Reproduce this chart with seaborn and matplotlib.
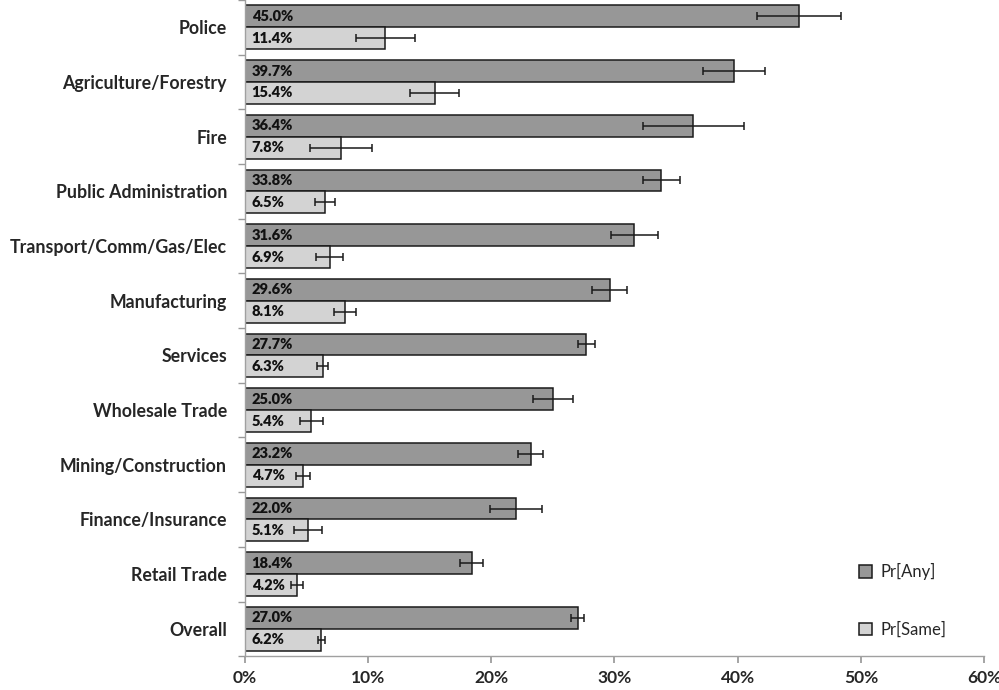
import pandas as pd
import seaborn as sns
import matplotlib.pyplot as plt
from matplotlib.ticker import FuncFormatter, MultipleLocator

# values (percent)
industries = ["Police", "Agriculture/Forestry", "Fire", "Public Administration",
              "Transport/Comm/Gas/Elec", "Manufacturing", "Services", "Wholesale Trade",
              "Mining/Construction", "Finance/Insurance", "Retail Trade", "Overall"]
pr_any = [45.0, 39.7, 36.4, 33.8, 31.6, 29.6, 27.7, 25.0, 23.2, 22.0, 18.4, 27.0]
pr_same = [11.4, 15.4, 7.8, 6.5, 6.9, 8.1, 6.3, 5.4, 4.7, 5.1, 4.2, 6.2]
err_any = [3.4, 2.55, 4.1, 1.5, 1.9, 1.45, 0.7, 1.65, 1.0, 2.1, 0.95, 0.5]
err_same = [2.4, 2.0, 2.5, 0.8, 1.1, 0.9, 0.45, 0.95, 0.55, 1.15, 0.5, 0.3]
series = ["Pr[Any]", "Pr[Same]"]
colors = ["#979797", "#d3d3d3"]

data = pd.DataFrame({
    "industry": industries * 2,
    "value": pr_any + pr_same,
    "series": [series[0]] * len(industries) + [series[1]] * len(industries),
})

sns.set_theme(style="white")
plt.rcParams['font.family'] = ['Lato', 'DejaVu Sans']

fig = plt.figure(figsize=(9.99, 6.9), dpi=100)
ax = fig.add_axes([0.2452, 0.049, 0.7398, 0.951])

sns.barplot(data=data, y="industry", x="value", hue="series", order=industries,
            hue_order=series, palette=colors, width=0.8, edgecolor="#1a1a1a",
            linewidth=1.1, errorbar=None, ax=ax)

# error bars and value labels on top of seaborn's bars
for cont, errs, vals in zip(ax.containers, [err_any, err_same], [pr_any, pr_same]):
    for patch, e, v in zip(cont.patches, errs, vals):
        yc = patch.get_y() + patch.get_height() / 2
        ax.errorbar(patch.get_width(), yc, xerr=e, color="#1a1a1a", elinewidth=1.1,
                    capsize=3, capthick=1.1, fmt="none")
        ax.text(0.55, yc, f"{v:.1f}%", va="center", ha="left", fontsize=10.5,
                fontweight="heavy", color="#111111")

ax.set_xlim(0, 60)
ax.set_ylim(len(industries) - 0.5, -0.5)
ax.xaxis.set_major_locator(MultipleLocator(10))
ax.xaxis.set_major_formatter(FuncFormatter(lambda x, _: f"{x:.0f}%"))
ax.set_xlabel("")
ax.set_ylabel("")

# band separators on y axis as ticks
ax.set_yticks([i - 0.5 for i in range(len(industries) + 1)], minor=True)
ax.tick_params(axis="y", which="minor", length=5, color="#999999", direction="out", left=True)
ax.tick_params(axis="y", which="major", length=0, pad=13, labelsize=12.8)
ax.tick_params(axis="x", which="major", length=5, color="#999999", direction="out",
               bottom=True, pad=5, labelsize=12.5)
for lab in ax.get_yticklabels() + ax.get_xticklabels():
    lab.set_fontweight("bold")

sns.despine(ax=ax, top=True, right=True)
for s in ["left", "bottom"]:
    ax.spines[s].set_color("#a0a0a0")
    ax.spines[s].set_linewidth(1.0)

ax.legend(loc="lower left", bbox_to_anchor=(0.81, 0.005), frameon=False,
          fontsize=12, labelspacing=2.5, handlelength=0.8, handleheight=0.8,
          handletextpad=0.5)

plt.savefig("out.png", dpi=100)
